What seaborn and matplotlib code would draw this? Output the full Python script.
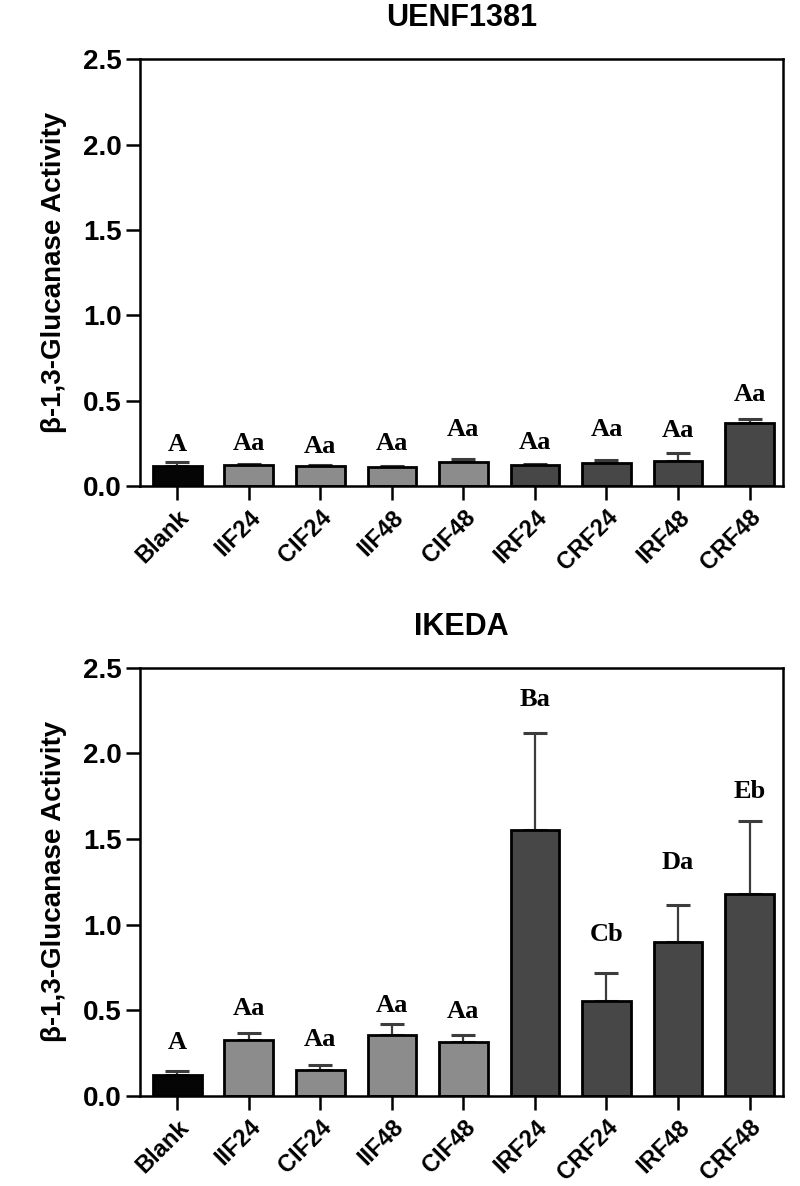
import matplotlib
matplotlib.use("Agg")
import matplotlib.pyplot as plt
import seaborn as sns
import pandas as pd
import numpy as np

categories = ["Blank", "IIF24", "CIF24", "IIF48", "CIF48", "IRF24", "CRF24", "IRF48", "CRF48"]
groups = ["blank", "inf", "inf", "inf", "inf", "res", "res", "res", "res"]

uenf_mean = [0.12, 0.123, 0.119, 0.115, 0.142, 0.123, 0.137, 0.148, 0.368]
uenf_err = [0.022, 0.005, 0.005, 0.005, 0.02, 0.007, 0.018, 0.045, 0.026]
uenf_letters = ["A", "Aa", "Aa", "Aa", "Aa", "Aa", "Aa", "Aa", "Aa"]
uenf_label_y = [0.244, 0.25, 0.23, 0.25, 0.332, 0.254, 0.332, 0.328, 0.54]

ikeda_mean = [0.121, 0.325, 0.150, 0.354, 0.315, 1.555, 0.552, 0.902, 1.178]
ikeda_err = [0.025, 0.043, 0.029, 0.068, 0.039, 0.563, 0.168, 0.212, 0.43]
ikeda_letters = ["A", "Aa", "Aa", "Aa", "Aa", "Ba", "Cb", "Da", "Eb"]
ikeda_label_y = [0.315, 0.51, 0.331, 0.53, 0.495, 2.318, 0.944, 1.363, 1.775]

titles = ["UENF1381", "IKEDA"]
ylabel = "β-1,3-Glucanase Activity"
yticks = [0.0, 0.5, 1.0, 1.5, 2.0, 2.5]

palette = {"blank": "#050505", "inf": "#8c8c8c", "res": "#474747"}

sns.set_style("white")
plt.rcParams["font.family"] = ["Liberation Sans", "DejaVu Sans"]
plt.rcParams["text.color"] = "black"
plt.rcParams["axes.labelcolor"] = "black"
plt.rcParams["xtick.color"] = "black"
plt.rcParams["ytick.color"] = "black"

fig = plt.figure(figsize=(8.0, 11.86), dpi=100)
ax_top = fig.add_axes([0.175, 0.590, 0.804, 0.360])
ax_bot = fig.add_axes([0.175, 0.0759, 0.804, 0.3610])

panels = [
    (ax_top, uenf_mean, uenf_err, uenf_letters, uenf_label_y, titles[0]),
    (ax_bot, ikeda_mean, ikeda_err, ikeda_letters, ikeda_label_y, titles[1]),
]

for ax, means, errs, letters, laby, title in panels:
    df = pd.DataFrame({"cat": categories, "val": means, "grp": groups, "err": errs})
    x = np.arange(len(categories))
    ax.errorbar(x, df["val"], yerr=[np.zeros(len(x)), df["err"]], fmt="none",
                ecolor="#3c3c3c", elinewidth=1.6, capsize=8.5, capthick=2.2, zorder=1)
    sns.barplot(data=df, x="cat", y="val", hue="grp", palette=palette, dodge=False,
                width=0.68, edgecolor="black", linewidth=2.0, legend=False,
                errorbar=None, ax=ax, zorder=2)
    for xi, (lt, ly) in enumerate(zip(letters, laby)):
        ax.text(xi, ly, lt, ha="center", va="center", fontsize=19, fontweight="bold",
                color="black", family=["Liberation Serif", "DejaVu Serif"])
    ax.set_xlim(-0.52, 8.47)
    ax.set_ylim(0, 2.5)
    ax.set_yticks(yticks)
    ax.set_yticklabels([f"{t:.1f}" for t in yticks], fontsize=20, fontweight="bold")
    ax.set_xticks(x)
    ax.set_xticklabels(categories, rotation=45, ha="right", rotation_mode="anchor",
                       fontsize=17, fontweight="bold")
    ax.set_xlabel("")
    ax.set_ylabel(ylabel, fontsize=20, fontweight="bold", labelpad=12)
    ax.set_title(title, fontsize=22, fontweight="bold", pad=24, color="black")
    ax.tick_params(axis="both", direction="out", length=10, width=1.8, color="black",
                   bottom=True, left=True)
    ax.tick_params(axis="x", pad=4)
    ax.tick_params(axis="y", pad=3)
    for sp in ax.spines.values():
        sp.set_visible(True)
        sp.set_color("black")
        sp.set_linewidth(1.8)

fig.savefig("out.png", dpi=100)
